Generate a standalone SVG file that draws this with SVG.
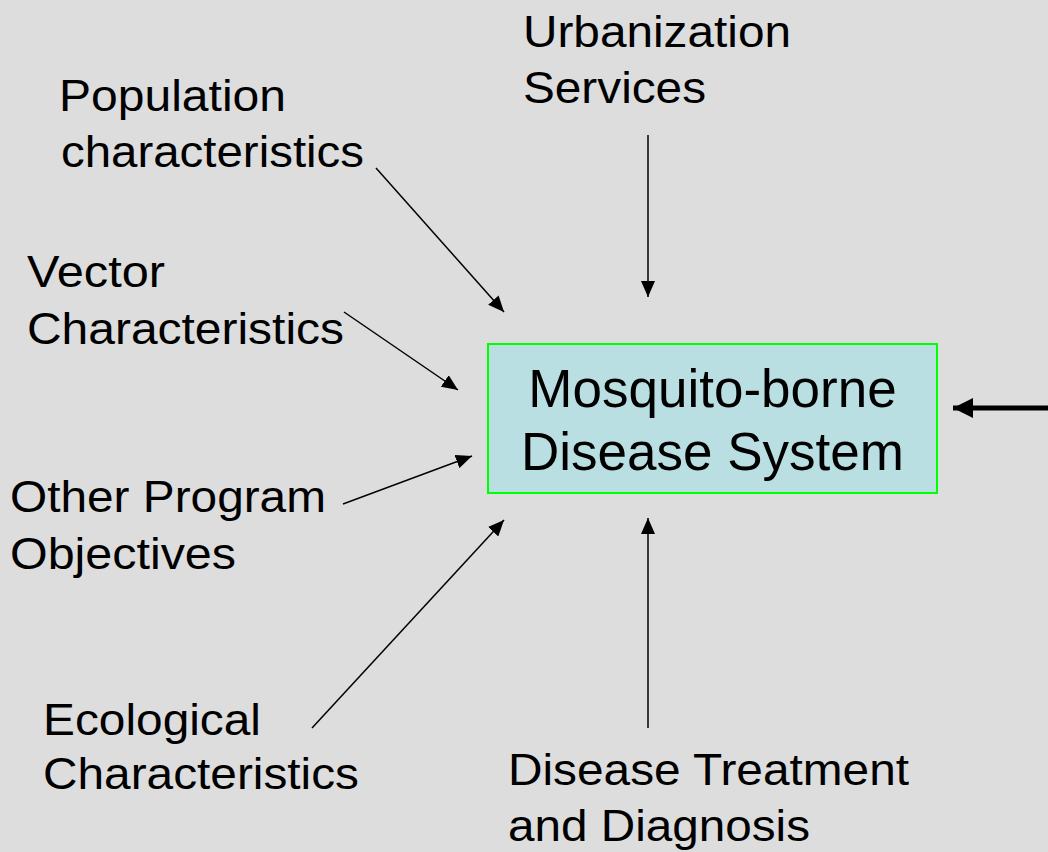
<svg xmlns="http://www.w3.org/2000/svg" width="1048" height="852" viewBox="0 0 1048 852">
  <style>
    .lbl { font-family: "Liberation Sans", Arial, sans-serif; font-size: 44px; fill: #000; }
    .core { font-family: "Liberation Sans", Arial, sans-serif; font-size: 53px; fill: #000; text-anchor: middle; }
    .link { stroke: #000; stroke-width: 1.5; fill: none; marker-end: url(#head); }
    .thick { stroke: #000; stroke-width: 5; fill: none; marker-end: url(#headBig); }
  </style>
  <defs>
    <marker id="head" markerUnits="userSpaceOnUse" markerWidth="18" markerHeight="14" refX="16" refY="7" orient="auto">
      <path d="M0,0 L16,7 L0,14 Z" fill="#000"/>
    </marker>
    <marker id="headBig" markerUnits="userSpaceOnUse" markerWidth="22" markerHeight="22" refX="20" refY="11" orient="auto">
      <path d="M0,1 L20,11 L0,21 Z" fill="#000"/>
    </marker>
  </defs>

  <rect x="0" y="0" width="1048" height="852" fill="#dddddd"/>

  <!-- central system box -->
  <g id="system">
    <rect x="488" y="344" width="449" height="149" fill="#b9dfe2" stroke="#00ff00" stroke-width="2"/>
    <text class="core" x="712.5" y="407">Mosquito-borne</text>
    <text class="core" x="712.5" y="470">Disease System</text>
  </g>

  <!-- labels are set slightly wide, so each line carries its own length -->
  <g id="urbanization">
    <text class="lbl" x="523" y="47" textLength="268" lengthAdjust="spacingAndGlyphs">Urbanization</text>
    <text class="lbl" x="523" y="103" textLength="183" lengthAdjust="spacingAndGlyphs">Services</text>
  </g>

  <g id="population">
    <text class="lbl" x="59" y="111" textLength="227" lengthAdjust="spacingAndGlyphs">Population</text>
    <text class="lbl" x="61" y="167" textLength="303" lengthAdjust="spacingAndGlyphs">characteristics</text>
  </g>

  <g id="vector">
    <text class="lbl" x="27" y="287" textLength="138" lengthAdjust="spacingAndGlyphs">Vector</text>
    <text class="lbl" x="27" y="344" textLength="317" lengthAdjust="spacingAndGlyphs">Characteristics</text>
  </g>

  <g id="other-objectives">
    <text class="lbl" x="10" y="512" textLength="316" lengthAdjust="spacingAndGlyphs">Other Program</text>
    <text class="lbl" x="10" y="569" textLength="226" lengthAdjust="spacingAndGlyphs">Objectives</text>
  </g>

  <g id="ecological">
    <text class="lbl" x="43" y="735" textLength="218" lengthAdjust="spacingAndGlyphs">Ecological</text>
    <text class="lbl" x="43" y="789" textLength="316" lengthAdjust="spacingAndGlyphs">Characteristics</text>
  </g>

  <g id="treatment">
    <text class="lbl" x="508" y="785" textLength="401" lengthAdjust="spacingAndGlyphs">Disease Treatment</text>
    <text class="lbl" x="508" y="841" textLength="302" lengthAdjust="spacingAndGlyphs">and Diagnosis</text>
  </g>

  <!-- influences pointing into the system -->
  <g id="connectors">
    <line class="link" x1="648" y1="135" x2="648" y2="297"/>
    <line class="link" x1="376" y1="168" x2="504" y2="312"/>
    <line class="link" x1="344" y1="312" x2="458" y2="390"/>
    <line class="link" x1="343" y1="504" x2="472" y2="456"/>
    <line class="link" x1="312" y1="728" x2="504" y2="520"/>
    <line class="link" x1="648" y1="728" x2="648" y2="518"/>
    <line class="thick" x1="1050" y1="408" x2="953" y2="408"/>
  </g>
</svg>
